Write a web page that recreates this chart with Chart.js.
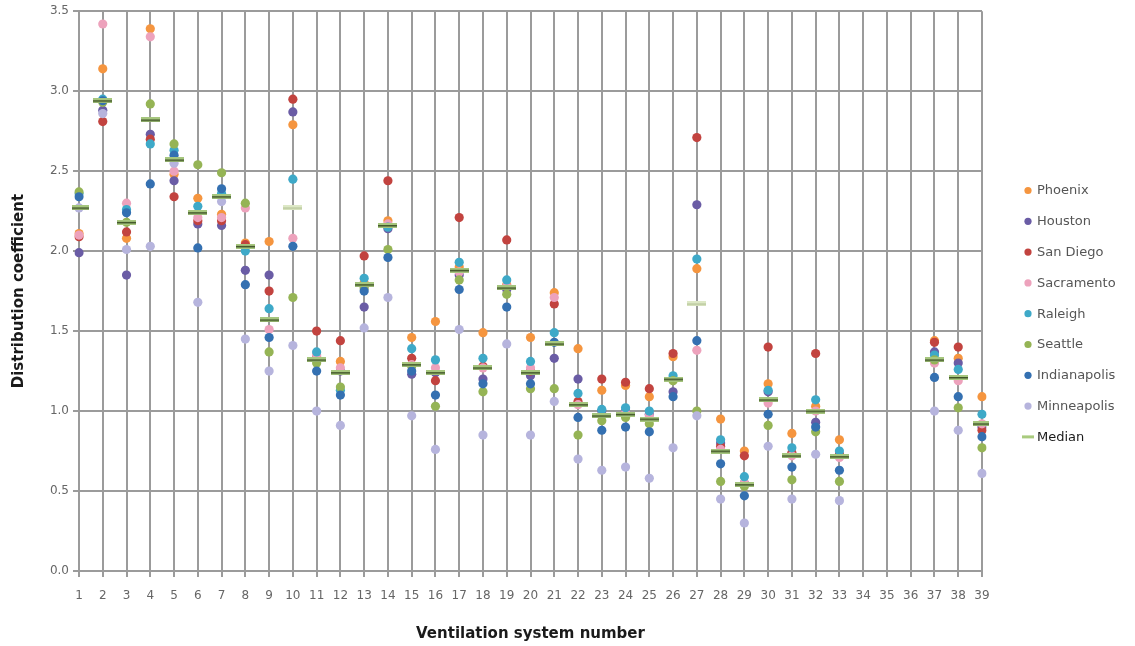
<!DOCTYPE html>
<html>
<head>
<meta charset="utf-8">
<script src="https://cdn.jsdelivr.net/npm/chart.js@4.4.1/dist/chart.umd.min.js"></script>
<style>
  html, body { margin: 0; padding: 0; background: #ffffff; }
  #wrap { width: 1135px; height: 646px; position: relative; }
</style>
</head>
<body>
<div id="wrap"><canvas id="chart" width="1135" height="646"></canvas></div>
<script>
// Ventilation systems 1-39 (34-36 have no results)
const systemNumbers = ['1','2','3','4','5','6','7','8','9','10','11','12','13','14','15','16','17','18','19','20',
  '21','22','23','24','25','26','27','28','29','30','31','32','33','34','35','36','37','38','39'];

const phoenix      = [2.11,3.14,2.08,3.39,2.48,2.33,2.23,2.05,2.06,2.79,1.34,1.31,1.80,2.19,1.46,1.56,1.90,1.49,1.79,1.46,
  1.74,1.39,1.13,1.16,1.09,1.34,1.89,0.95,0.75,1.17,0.86,1.03,0.82,null,null,null,1.44,1.33,1.09];
const houston      = [1.99,2.88,1.85,2.73,2.44,2.17,2.16,1.88,1.85,2.87,1.33,1.25,1.65,2.14,1.23,1.24,1.85,1.20,1.76,1.22,
  1.33,1.20,1.00,1.00,0.98,1.12,2.29,0.80,0.55,1.12,0.73,0.93,0.72,null,null,null,1.37,1.30,0.90];
const sanDiego     = [2.09,2.81,2.12,2.70,2.34,2.19,2.19,2.04,1.75,2.95,1.50,1.44,1.97,2.44,1.33,1.19,2.21,1.28,2.07,1.25,
  1.67,1.06,1.20,1.18,1.14,1.36,2.71,0.78,0.72,1.40,0.74,1.36,0.73,null,null,null,1.43,1.40,0.88];
const sacramento   = [2.10,3.42,2.30,3.34,2.50,2.21,2.21,2.27,1.51,2.08,1.35,1.27,1.78,2.17,1.29,1.27,1.87,1.27,1.78,1.27,
  1.71,1.04,0.97,0.99,0.97,1.20,1.38,0.76,0.55,1.05,0.72,1.00,0.71,null,null,null,1.30,1.19,0.92];
const raleigh      = [2.36,2.95,2.26,2.67,2.63,2.28,2.36,2.00,1.64,2.45,1.37,1.13,1.83,2.15,1.39,1.32,1.93,1.33,1.82,1.31,
  1.49,1.11,1.01,1.02,1.00,1.22,1.95,0.82,0.59,1.13,0.77,1.07,0.75,null,null,null,1.35,1.26,0.98];
const seattle      = [2.37,2.93,2.18,2.92,2.67,2.54,2.49,2.30,1.37,1.71,1.30,1.15,1.77,2.01,1.28,1.03,1.82,1.12,1.73,1.14,
  1.14,0.85,0.94,0.96,0.92,1.19,1.00,0.56,0.53,0.91,0.57,0.87,0.56,null,null,null,1.32,1.02,0.77];
const indianapolis = [2.34,2.94,2.24,2.42,2.60,2.02,2.39,1.79,1.46,2.03,1.25,1.10,1.75,1.96,1.25,1.10,1.76,1.17,1.65,1.17,
  1.43,0.96,0.88,0.90,0.87,1.09,1.44,0.67,0.47,0.98,0.65,0.90,0.63,null,null,null,1.21,1.09,0.84];
const minneapolis  = [2.27,2.86,2.01,2.03,2.55,1.68,2.31,1.45,1.25,1.41,1.00,0.91,1.52,1.71,0.97,0.76,1.51,0.85,1.42,0.85,
  1.06,0.70,0.63,0.65,0.58,0.77,0.97,0.45,0.30,0.78,0.45,0.73,0.44,null,null,null,1.00,0.88,0.61];
const median       = [2.27,2.94,2.18,2.82,2.57,2.24,2.34,2.03,1.57,2.27,1.32,1.24,1.79,2.16,1.29,1.24,1.88,1.27,1.77,1.24,
  1.42,1.04,0.97,0.98,0.95,1.20,1.67,0.75,0.54,1.07,0.72,1.00,0.715,null,null,null,1.32,1.21,0.92];

const yTicks = [0, 0.5, 1.0, 1.5, 2.0, 2.5, 3.0, 3.5];

// Systems whose median dash is drawn in the lighter tint
const lightMedianSystems = ['10', '27'];

const FONT = '"DejaVu Sans", "Open Sans", sans-serif';

const cityColors = {
  Phoenix: '#F5953F',
  Houston: '#6A5CA5',
  'San Diego': '#C2433F',
  Sacramento: '#EDA2BC',
  Raleigh: '#3EA9C8',
  Seattle: '#95B455',
  Indianapolis: '#3470B1',
  Minneapolis: '#B6B4DD'
};
const medianColor = '#A9CB7E';

// Dash marker for the median: pale green bar with a darker stroke through it
function makeDash(fill, stroke) {
  const c = document.createElement('canvas');
  c.width = 19; c.height = 5;
  const g = c.getContext('2d');
  g.fillStyle = fill;
  g.fillRect(0, 0, 19, 5);
  g.fillStyle = stroke;
  g.fillRect(0, 2, 19, 1.5);
  return c;
}
const darkDash = makeDash('#A6C67E', '#3F5327');
const lightDash = makeDash('#DDE8C6', '#B9C79C');

function cityDataset(label, values) {
  return {
    label: label,
    data: values,
    showLine: false,
    pointStyle: 'circle',
    pointRadius: 4.6,
    pointBorderWidth: 0,
    backgroundColor: cityColors[label],
    borderColor: cityColors[label]
  };
}

const datasets = [
  cityDataset('Phoenix', phoenix),
  cityDataset('Houston', houston),
  cityDataset('San Diego', sanDiego),
  cityDataset('Sacramento', sacramento),
  cityDataset('Raleigh', raleigh),
  cityDataset('Seattle', seattle),
  cityDataset('Indianapolis', indianapolis),
  cityDataset('Minneapolis', minneapolis),
  {
    label: 'Median',
    data: median,
    showLine: false,
    pointRadius: 6,
    backgroundColor: medianColor,
    borderColor: medianColor,
    pointStyle: (ctx) => lightMedianSystems.includes(systemNumbers[ctx.dataIndex]) ? lightDash : darkDash
  }
];
// later series are painted over earlier ones
datasets.forEach((d, i) => { d.order = datasets.length - i; });

// Legend drawn at the right, series markers followed by the city name
const sideLegend = {
  id: 'sideLegend',
  afterDraw(chart) {
    const ctx = chart.ctx;
    const x0 = 1028, y0 = 190.5, step = 30.8;
    ctx.save();
    ctx.font = '13px ' + FONT;
    ctx.textBaseline = 'middle';
    ctx.textAlign = 'left';
    datasets.forEach((d, i) => {
      const y = y0 + i * step;
      if (d.label === 'Median') {
        ctx.strokeStyle = medianColor;
        ctx.lineWidth = 3;
        ctx.beginPath();
        ctx.moveTo(x0 - 6, y);
        ctx.lineTo(x0 + 6, y);
        ctx.stroke();
        ctx.fillStyle = '#1a1a1a';
      } else {
        ctx.fillStyle = d.backgroundColor;
        ctx.beginPath();
        ctx.arc(x0, y, 3.6, 0, Math.PI * 2);
        ctx.fill();
        ctx.fillStyle = '#555555';
      }
      ctx.fillText(d.label, x0 + 9, y + 0.5);
    });
    ctx.restore();
  }
};

new Chart(document.getElementById('chart'), {
  type: 'line',
  data: { labels: systemNumbers, datasets: datasets },
  plugins: [sideLegend],
  options: {
    responsive: false,
    animation: false,
    events: [],
    layout: { padding: { top: 11, right: 153, bottom: 0, left: 0 } },
    plugins: {
      legend: { display: false },
      tooltip: { enabled: false }
    },
    scales: {
      x: {
        type: 'category',
        offset: false,
        grid: { color: '#9b9b9b', lineWidth: 2, tickLength: 6, drawOnChartArea: true },
        border: { display: false },
        ticks: {
          color: '#666666',
          font: { family: FONT, size: 12 },
          padding: 12,
          maxRotation: 0,
          autoSkip: false
        },
        title: {
          display: true,
          text: 'Ventilation system number',
          color: '#1a1a1a',
          font: { family: FONT, size: 15, weight: 'bold' },
          padding: { top: 4, bottom: 3 }
        },
        afterFit(scale) { scale.height = 75; }
      },
      y: {
        min: 0,
        max: 3.5,
        afterBuildTicks(scale) { scale.ticks = yTicks.map(v => ({ value: v })); },
        grid: { color: '#9b9b9b', lineWidth: 2, tickLength: 6 },
        border: { display: false },
        ticks: {
          color: '#666666',
          font: { family: FONT, size: 12 },
          padding: 4,
          callback: (v) => Number(v).toFixed(1)
        },
        title: {
          display: true,
          text: 'Distribution coefficient',
          color: '#1a1a1a',
          font: { family: FONT, size: 15, weight: 'bold' },
          padding: { top: 10, bottom: 0 }
        },
        afterFit(scale) { scale.width = 79; }
      }
    }
  }
});
</script>
</body>
</html>
